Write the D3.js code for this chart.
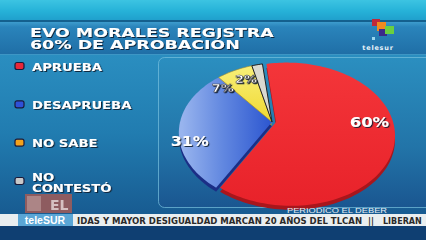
<!DOCTYPE html>
<html>
<head>
<meta charset="utf-8">
<script src="https://cdn.jsdelivr.net/npm/d3@7"></script>
<style>
  body { margin: 0; background: #0d3d70; overflow: hidden; }
  svg { display: block; }
</style>
</head>
<body>
<div id="chart"></div>
<script>
// datos del gráfico
var categories = ["APRUEBA", "DESAPRUEBA", "NO SABE", "NO CONTESTÓ"];
var values = [60, 31, 7, 2];
var valueLabels = ["60%", "31%", "7%", "2%"];
var titleLines = ["EVO MORALES REGISTRA", "60% DE APROBACIÓN"];
var sourceText = "PERIODICO EL DEBER";
var tickerText = "IDAS Y MAYOR DESIGUALDAD MARCAN 20 AÑOS DEL TLCAN";
var tickerNext = "LIBERAN";

var width = 426;
var height = 240;

// colores por categoría (arriba, costado)
var topColors = ["url(#gRed)", "url(#gBlue)", "url(#gYellow)", "#d9d9d0"];
var sideColors = ["#a8161c", "#1b2e86", "#a89a1c", "#8c8c88"];
var legendColors = ["#e8283a", "#2f50d8", "#f4a21c", "#c8c8c8"];

// posición de etiquetas (desplazamiento angular en grados, radio relativo)
var labelShift = [-12, -15, -18, -12];
var labelRadius = [0.85, 0.89, 0.80, 0.78];
var labelSize = [14, 13.5, 11, 11];

var svg = d3.select("#chart")
    .append("svg")
    .attr("width", width)
    .attr("height", height);

var defs = svg.append("defs");
function linGrad(id, x1, y1, x2, y2, stops) {
    var g = defs.append("linearGradient").attr("id", id)
        .attr("gradientUnits", "userSpaceOnUse")
        .attr("x1", x1).attr("y1", y1).attr("x2", x2).attr("y2", y2);
    stops.forEach(function (s) {
        g.append("stop").attr("offset", s[0]).attr("stop-color", s[1]);
    });
}
linGrad("gTop", 0, 0, 0, 22, [[0, "#3cc4e2"], [0.5, "#26b2d8"], [1, "#1e9cca"]]);
linGrad("gTitle", 0, 22, 0, 55, [[0, "#3d9ccd"], [0.15, "#2a84bb"], [1, "#1f6ea6"]]);
linGrad("gBody", 0, 55, 0, 212, [[0, "#2a8ec0"], [0.5, "#217cb0"], [1, "#185c92"]]);
linGrad("gPanel", 0, 57, 0, 208, [[0, "#2b8fc0"], [0.6, "#2274a8"], [1, "#1a5690"]]);
linGrad("gBlue", 182, 0, 272, 0, [[0, "#98b4ee"], [0.45, "#6288e0"], [1, "#2c56d0"]]);
linGrad("gRed", 0, 60, 0, 205, [[0, "#f4363a"], [1, "#e8222a"]]);
linGrad("gYellow", 0, 65, 0, 122, [[0, "#f8f07a"], [1, "#f0d830"]]);

var shadow = defs.append("filter").attr("id", "shadow")
    .attr("x", "-20%").attr("y", "-30%").attr("width", "140%").attr("height", "160%");
shadow.append("feDropShadow").attr("dx", 1).attr("dy", 1)
    .attr("stdDeviation", 0.6).attr("flood-color", "#0a1a30").attr("flood-opacity", 0.9);

// fondo
svg.append("rect").attr("width", width).attr("height", height).attr("fill", "url(#gBody)");
svg.append("rect").attr("width", width).attr("height", 21).attr("fill", "url(#gTop)");
svg.append("rect").attr("y", 20).attr("width", width).attr("height", 2).attr("fill", "#14608e");
svg.append("rect").attr("y", 22).attr("width", width).attr("height", 33).attr("fill", "url(#gTitle)");
svg.append("rect").attr("y", 54).attr("width", width).attr("height", 1).attr("fill", "#4aa6d2").attr("opacity", 0.7);

// panel del gráfico
svg.append("rect")
    .attr("x", 158.5).attr("y", 57.5)
    .attr("width", 290).attr("height", 150)
    .attr("rx", 6)
    .attr("fill", "url(#gPanel)")
    .attr("stroke", "#78c0de")
    .attr("stroke-opacity", 0.7);

// título
var title = svg.append("g").attr("filter", "url(#shadow)");
title.selectAll("text")
    .data(titleLines)
    .enter()
    .append("text")
    .attr("transform", function (d, i) { return "translate(30," + (36.5 + i * 12.5) + ") scale(1.45,1)"; })
    .attr("font-family", "DejaVu Sans")
    .attr("font-weight", "bold")
    .attr("font-size", 12)
    .attr("fill", "#ffffff")
    .text(function (d) { return d; });

// logo telesur
var logo = svg.append("g");
var logoSquares = [[372, 19, 8, 7, "#c0283a"], [377, 22, 9, 9, "#f08a20"], [379, 29, 8, 7, "#3a2a8a"], [385, 26, 9, 8, "#6ad040"], [372, 37, 3, 3, "#9ad8f0"]];
logo.selectAll("rect")
    .data(logoSquares)
    .enter()
    .append("rect")
    .attr("x", function (d) { return d[0]; })
    .attr("y", function (d) { return d[1]; })
    .attr("width", function (d) { return d[2]; })
    .attr("height", function (d) { return d[3]; })
    .attr("fill", function (d) { return d[4]; });
logo.append("text")
    .attr("x", 378).attr("y", 50)
    .attr("text-anchor", "middle")
    .attr("font-family", "DejaVu Sans")
    .attr("font-weight", "bold")
    .attr("font-size", 6.5)
    .attr("letter-spacing", 0.8)
    .attr("fill", "#e8f4fa")
    .text("telesur");

// leyenda
var legendY = d3.scalePoint()
    .domain(categories)
    .range([66, 181]);

var legend = svg.append("g");
var items = legend.selectAll("g")
    .data(categories)
    .enter()
    .append("g")
    .attr("transform", function (d) { return "translate(0," + legendY(d) + ")"; });

items.append("rect")
    .attr("x", 15).attr("y", -3.5)
    .attr("width", 9).attr("height", 7)
    .attr("rx", 2)
    .attr("fill", function (d, i) { return legendColors[i]; })
    .attr("stroke", "#1a1a3a")
    .attr("stroke-width", 1.2);

// miniatura de video (queda detrás del texto de la leyenda)
svg.append("rect").attr("x", 25).attr("y", 194).attr("width", 47).attr("height", 19).attr("fill", "#8e5c60");
svg.append("rect").attr("x", 27).attr("y", 196).attr("width", 14).attr("height", 15).attr("fill", "#c0a0a0").attr("opacity", 0.6);
svg.append("text")
    .attr("x", 50).attr("y", 210)
    .attr("font-family", "DejaVu Sans")
    .attr("font-weight", "bold")
    .attr("font-size", 14)
    .attr("fill", "#e8dada")
    .attr("opacity", 0.8)
    .text("EL");

items.append("text")
    .attr("transform", "translate(32,0) scale(1.2,1)")
    .attr("font-family", "DejaVu Sans")
    .attr("font-weight", "bold")
    .attr("font-size", 11)
    .attr("fill", "#ffffff")
    .attr("filter", "url(#shadow)")
    .each(function (d) {
        var t = d3.select(this);
        if (d.length > 10) {
            var words = d.split(" ");
            t.append("tspan").attr("x", 0).attr("y", 0).text(words[0]);
            t.append("tspan").attr("x", 0).attr("y", 11).text(words.slice(1).join(" "));
        } else {
            t.append("tspan").attr("x", 0).attr("y", 4.5).text(d);
        }
    });

// torta en perspectiva
var cx = 272, cy = 122, ax = 103, ay = 69, gx = -0.12, gy = -0.169;
var depth = 4;
function proj(x, y) {
    var w = 1 + gx * x + gy * y;
    return [cx + ax * x / w, cy + ay * y / w];
}
function polar(a, r) {
    return proj(r * Math.sin(a), -r * Math.cos(a));
}

var pie = d3.pie()
    .sort(null)
    .value(function (d) { return d; })
    .startAngle(-0.11)
    .endAngle(-0.11 + 2 * Math.PI);
var arcs = pie(values);

var line = d3.line();
function slicePath(d) {
    var pts = [proj(0, 0)];
    var n = Math.max(2, Math.ceil((d.endAngle - d.startAngle) / 0.03));
    for (var k = 0; k <= n; k++) {
        pts.push(polar(d.startAngle + (d.endAngle - d.startAngle) * k / n, 1));
    }
    return line(pts) + "Z";
}
// la porción roja sale un poco hacia la derecha
function offset(i) { return i === 0 ? [4, 0] : [0, 0]; }

var pieG = svg.append("g");
pieG.append("g")
    .selectAll("path")
    .data(arcs)
    .enter()
    .append("path")
    .attr("transform", function (d, i) { var o = offset(i); return "translate(" + o[0] + "," + (o[1] + depth) + ")"; })
    .attr("d", slicePath)
    .attr("fill", function (d, i) { return sideColors[i]; });

pieG.append("g")
    .selectAll("path")
    .data(arcs)
    .enter()
    .append("path")
    .attr("transform", function (d, i) { var o = offset(i); return "translate(" + o[0] + "," + o[1] + ")"; })
    .attr("d", slicePath)
    .attr("fill", function (d, i) { return topColors[i]; })
    .attr("stroke", function (d, i) { return i === 3 ? "#222" : (i === 2 ? "#a08a30" : "none"); })
    .attr("stroke-width", function (d, i) { return i === 3 ? 1 : 0.6; })
    .attr("stroke-linejoin", "round");

// etiquetas de porcentaje
pieG.append("g")
    .selectAll("text")
    .data(arcs)
    .enter()
    .append("text")
    .attr("transform", function (d, i) {
        var a = (d.startAngle + d.endAngle) / 2 + labelShift[i] * Math.PI / 180;
        var p = polar(a, labelRadius[i]);
        return "translate(" + p[0] + "," + (p[1] + labelSize[i] * 0.36) + ") scale(1.18,1)";
    })
    .attr("text-anchor", "middle")
    .attr("font-family", "DejaVu Sans")
    .attr("font-weight", "bold")
    .attr("font-size", function (d, i) { return labelSize[i]; })
    .attr("fill", "#ffffff")
    .attr("stroke", function (d, i) { return i >= 2 ? "#404048" : "none"; })
    .attr("stroke-width", 0.5)
    .attr("filter", "url(#shadow)")
    .text(function (d, i) { return valueLabels[i]; });

// fuente
svg.append("text")
    .attr("x", 287).attr("y", 212.5)
    .attr("font-family", "Liberation Sans")
    .attr("font-size", 8)
    .attr("fill", "#e8eef4")
    .attr("textLength", 100)
    .attr("lengthAdjust", "spacingAndGlyphs")
    .text(sourceText);

// barra inferior
svg.append("rect").attr("y", 214).attr("width", width).attr("height", 12).attr("fill", "#e9eef0");
svg.append("rect").attr("x", 18).attr("y", 214).attr("width", 55).attr("height", 12).attr("fill", "#5aa6d6");
svg.append("text")
    .attr("x", 45).attr("y", 224)
    .attr("text-anchor", "middle")
    .attr("font-family", "Liberation Sans")
    .attr("font-weight", "bold")
    .attr("font-size", 10.5)
    .attr("fill", "#ffffff")
    .text("teleSUR");
svg.append("text")
    .attr("x", 77).attr("y", 223.5)
    .attr("font-family", "DejaVu Sans")
    .attr("font-weight", "bold")
    .attr("font-size", 8)
    .attr("fill", "#2a2a2a")
    .attr("textLength", 285)
    .attr("lengthAdjust", "spacingAndGlyphs")
    .text(tickerText);
svg.append("text")
    .attr("x", 368).attr("y", 223.5)
    .attr("font-family", "DejaVu Sans")
    .attr("font-weight", "bold")
    .attr("font-size", 8)
    .attr("fill", "#2a2a2a")
    .text("||");
svg.append("text")
    .attr("x", 383).attr("y", 223.5)
    .attr("font-family", "DejaVu Sans")
    .attr("font-weight", "bold")
    .attr("font-size", 8)
    .attr("fill", "#2a2a2a")
    .text(tickerNext);
svg.append("rect").attr("y", 226).attr("width", width).attr("height", 14).attr("fill", "#0f3f72");
</script>
</body>
</html>
